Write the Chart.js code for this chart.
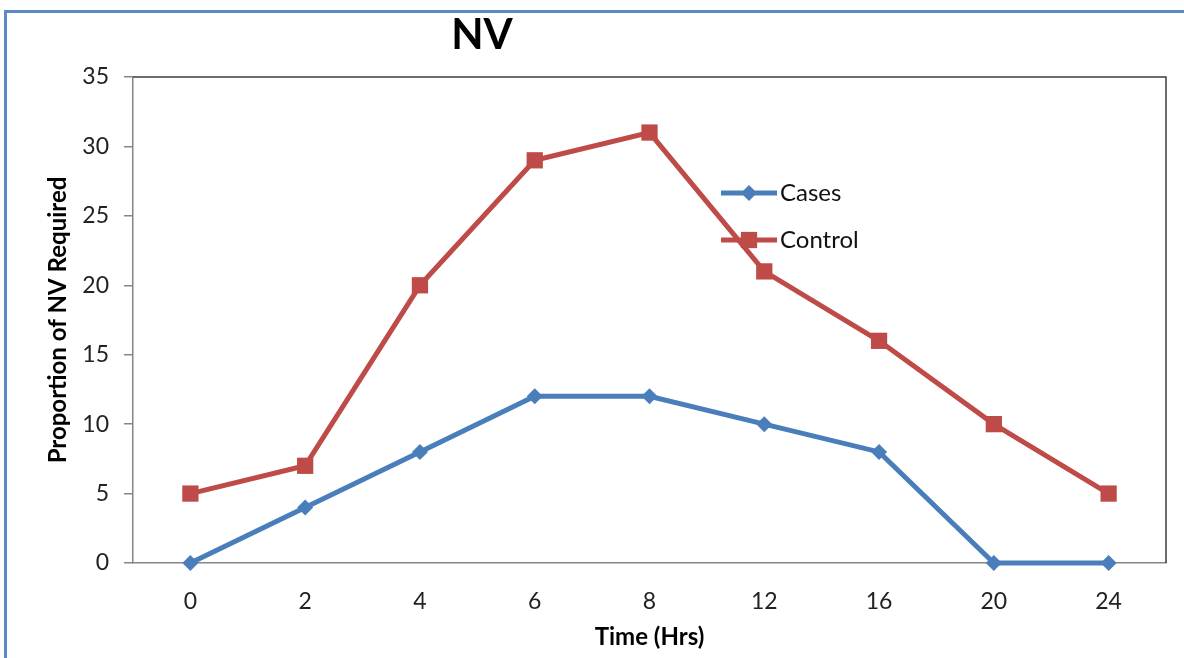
<!DOCTYPE html>
<html>
<head>
<meta charset="utf-8">
<script src="https://cdn.jsdelivr.net/npm/chart.js@4.4.0/dist/chart.umd.min.js"></script>
<style>
  html, body { margin: 0; padding: 0; background: #fff; }
  #wrap { position: relative; width: 1184px; height: 658px; overflow: hidden; }
  #frame { position: absolute; left: 4px; top: 10px; right: -10px; bottom: -10px;
           border-top: 3px solid #5a8ac6; border-left: 3px solid #5a8ac6; }
  canvas { position: absolute; left: 0; top: 0; }
</style>
</head>
<body>
<div id="wrap">
  <div id="frame"></div>
  <canvas id="chart" width="1184" height="658"></canvas>
</div>
<script>
const hours = ["0", "2", "4", "6", "8", "12", "16", "20", "24"];
const cases = [0, 4, 8, 12, 12, 10, 8, 0, 0];
const control = [5, 7, 20, 29, 31, 21, 16, 10, 5];

const FONT = "Lato, 'Open Sans', sans-serif";
const BLUE = "#4a7ebb";
const RED = "#be4b48";

// title + legend + plot border, drawn by hand like Excel puts them
const extras = {
  id: "extras",
  afterDraw(chart) {
    const { ctx, chartArea } = chart;
    ctx.save();
    // plot border top/right
    ctx.strokeStyle = "#3c3c3c";
    ctx.lineWidth = 1.5;
    ctx.beginPath();
    ctx.moveTo(chartArea.left, chartArea.top);
    ctx.lineTo(chartArea.right, chartArea.top);
    ctx.lineTo(chartArea.right, chartArea.bottom);
    ctx.stroke();

    // title
    ctx.fillStyle = "#000";
    ctx.font = "bold 42px " + FONT;
    ctx.textAlign = "center";
    ctx.textBaseline = "middle";
    ctx.fillText("NV", 482, 35);

    // legend
    const items = [
      { label: "Cases", color: BLUE, style: "rectRot", r: 8, y: 193 },
      { label: "Control", color: RED, style: "rect", r: 11.5, y: 240 }
    ];
    ctx.font = "24px " + FONT;
    ctx.textAlign = "left";
    items.forEach((it) => {
      ctx.strokeStyle = it.color;
      ctx.lineWidth = 5;
      ctx.beginPath();
      ctx.moveTo(721, it.y);
      ctx.lineTo(777, it.y);
      ctx.stroke();
      ctx.fillStyle = it.color;
      Chart.helpers.drawPoint(ctx, { pointStyle: it.style, radius: it.r, borderWidth: 0 }, 749, it.y);
      ctx.fillStyle = "#111";
      ctx.fillText(it.label, 780, it.y);
    });
    ctx.restore();
  }
};

new Chart(document.getElementById("chart"), {
  type: "line",
  data: {
    labels: hours,
    datasets: [
      {
        label: "Cases",
        data: cases,
        borderColor: BLUE,
        backgroundColor: BLUE,
        borderWidth: 5,
        pointStyle: "rectRot",
        pointRadius: 8,
        pointBorderWidth: 0,
        tension: 0,
        clip: false
      },
      {
        label: "Control",
        data: control,
        borderColor: RED,
        backgroundColor: RED,
        borderWidth: 5,
        pointStyle: "rect",
        pointRadius: 11.5,
        pointBorderWidth: 0,
        tension: 0,
        clip: false
      }
    ]
  },
  options: {
    responsive: false,
    animation: false,
    layout: { padding: { top: 77, right: 18, left: 0, bottom: 0 } },
    plugins: {
      legend: { display: false },
      tooltip: { enabled: false }
    },
    scales: {
      x: {
        offset: true,
        grid: { display: false },
        border: { color: "#868686", width: 1.5 },
        ticks: { color: "#222", font: { family: FONT, size: 23 }, padding: 17 },
        title: {
          display: true,
          text: "Time (Hrs)",
          color: "#000",
          font: { family: FONT, size: 24, weight: "bold" },
          padding: { top: 4, bottom: 6 }
        },
        afterFit(axis) { axis.height = 95; }
      },
      y: {
        min: 0,
        max: 35,
        ticks: { stepSize: 5, color: "#222", font: { family: FONT, size: 23 }, padding: 15 },
        grid: { drawOnChartArea: false, color: "#868686", tickLength: 9, lineWidth: 1.5 },
        border: { color: "#868686", width: 1.5 },
        title: {
          display: true,
          text: "Proportion of NV Required",
          color: "#000",
          font: { family: FONT, size: 24, weight: "bold" },
          padding: { top: 44, bottom: 0 }
        },
        afterFit(axis) { axis.width = 133; }
      }
    }
  },
  plugins: [extras]
});
</script>
</body>
</html>
